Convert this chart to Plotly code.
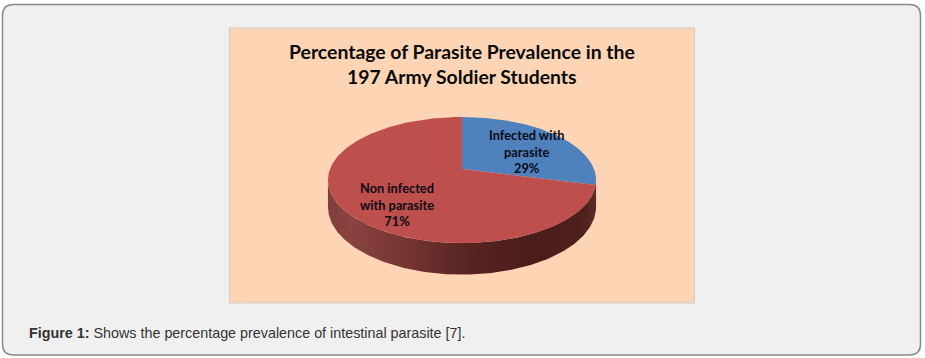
import numpy as np
import plotly.graph_objects as go

# ---- data ----
categories = ["Infected with<br>parasite", "Non infected<br>with parasite"]
values = [29, 71]
slice_colors = ["#4f81bd", "#bd4f4c"]
title_lines = ["Percentage of Parasite Prevalence in the", "197 Army Soldier Students"]
caption_bold = "Figure 1:"
caption_rest = " Shows the percentage prevalence of intestinal parasite [7]."

# ---- perspective disc, on axes that run in picture units ----
CX, CY = 462.0, 169.0      # apex of the pie
B, A, K = 132.0, 61.1, 0.175
DEPTH = 26.0


def project(theta):
    u, v = np.sin(theta), np.cos(theta)
    w = 1 + K * v
    return CX + B * u / w, CY - A * v / w, w


fig = go.Figure()

# side wall
t0 = np.arccos(-K)
theta_side = np.linspace(t0, 2 * np.pi - t0, 160)
sx, sy, sw = project(theta_side)
fig.add_trace(go.Scatter(
    x=np.r_[sx, sx[::-1]],
    y=np.r_[sy, (sy + DEPTH / sw)[::-1]],
    mode="lines", line=dict(width=0), fill="toself",
    fillgradient=dict(
        type="horizontal",
        colorscale=[[0, "#7f3d3b"], [0.08, "#8a4341"], [0.25, "#7a3735"],
                    [0.5, "#5a2523"], [0.75, "#4a1c1a"], [0.95, "#4d1f1d"], [1, "#5c2c2a"]],
    ),
    hoverinfo="skip", showlegend=False,
))

# top face slices
fractions = np.array(values, dtype=float) / sum(values)
edges = np.r_[0, np.cumsum(fractions)] * 2 * np.pi
for i, name in enumerate(categories):
    th = np.linspace(edges[i], edges[i + 1], 200)
    px, py, _ = project(th)
    fig.add_trace(go.Scatter(
        x=np.r_[CX, px, CX], y=np.r_[CY, py, CY],
        mode="lines", line=dict(width=0, color=slice_colors[i]),
        fill="toself", fillcolor=slice_colors[i],
        name=name.replace("<br>", " "), showlegend=False,
        hovertemplate=f"{name.replace('<br>', ' ')}: {values[i]}%<extra></extra>",
    ))

label_pos = [(526, 151), (397, 204.5)]
annotations = []
for (lx, ly), name, val in zip(label_pos, categories, values):
    annotations.append(dict(
        x=lx, y=ly, xref="x", yref="y", showarrow=False, align="center",
        text=f"<b>{name}<br>{val}%</b>",
        font=dict(family="Lato, Carlito, sans-serif", size=12.8, color="#0b0b14"),
    ))
for y, line in zip((51, 76), title_lines):
    annotations.append(dict(
        x=462, y=y, xref="x", yref="y", showarrow=False,
        text=f"<b>{line}</b>",
        font=dict(family="Lato, Carlito, sans-serif", size=19.4, color="#0a0a0a"),
    ))
annotations.append(dict(
    x=27, y=333, xref="x", yref="y", xanchor="left", showarrow=False,
    text=f"<b>{caption_bold}</b>{caption_rest}",
    font=dict(family="Liberation Sans, Arial, sans-serif", size=14.33, color="#333333"),
))

R = 11
L, T, Rt, Bt = 2.5, 4.5, 920.5, 355
card = (f"M {L+R},{T} L {Rt-R},{T} Q {Rt},{T} {Rt},{T+R} L {Rt},{Bt-R} "
        f"Q {Rt},{Bt} {Rt-R},{Bt} L {L+R},{Bt} Q {L},{Bt} {L},{Bt-R} L {L},{T+R} Q {L},{T} {L+R},{T} Z")
shapes = [
    dict(type="path", path=card, xref="x", yref="y", layer="below",
         fillcolor="#f0f0f0", line=dict(color="#8a8a8a", width=1.5)),
    dict(type="rect", x0=229.5, y0=28, x1=694.5, y1=303, xref="x", yref="y", layer="below",
         fillcolor="#fdd5b5", line=dict(color="#d2cbc4", width=1)),
]

fig.update_layout(
    width=925, height=358, autosize=False,
    margin=dict(l=0, r=0, t=0, b=0),
    paper_bgcolor="#ffffff", plot_bgcolor="rgba(0,0,0,0)",
    xaxis=dict(range=[0, 925], visible=False, fixedrange=True),
    yaxis=dict(range=[358, 0], visible=False, fixedrange=True),
    shapes=shapes, annotations=annotations, showlegend=False,
)

fig.write_html(
    "out.html",
    config=dict(displayModeBar=False),
    post_script="document.body.style.margin='0';document.body.style.overflow='hidden';",
)
